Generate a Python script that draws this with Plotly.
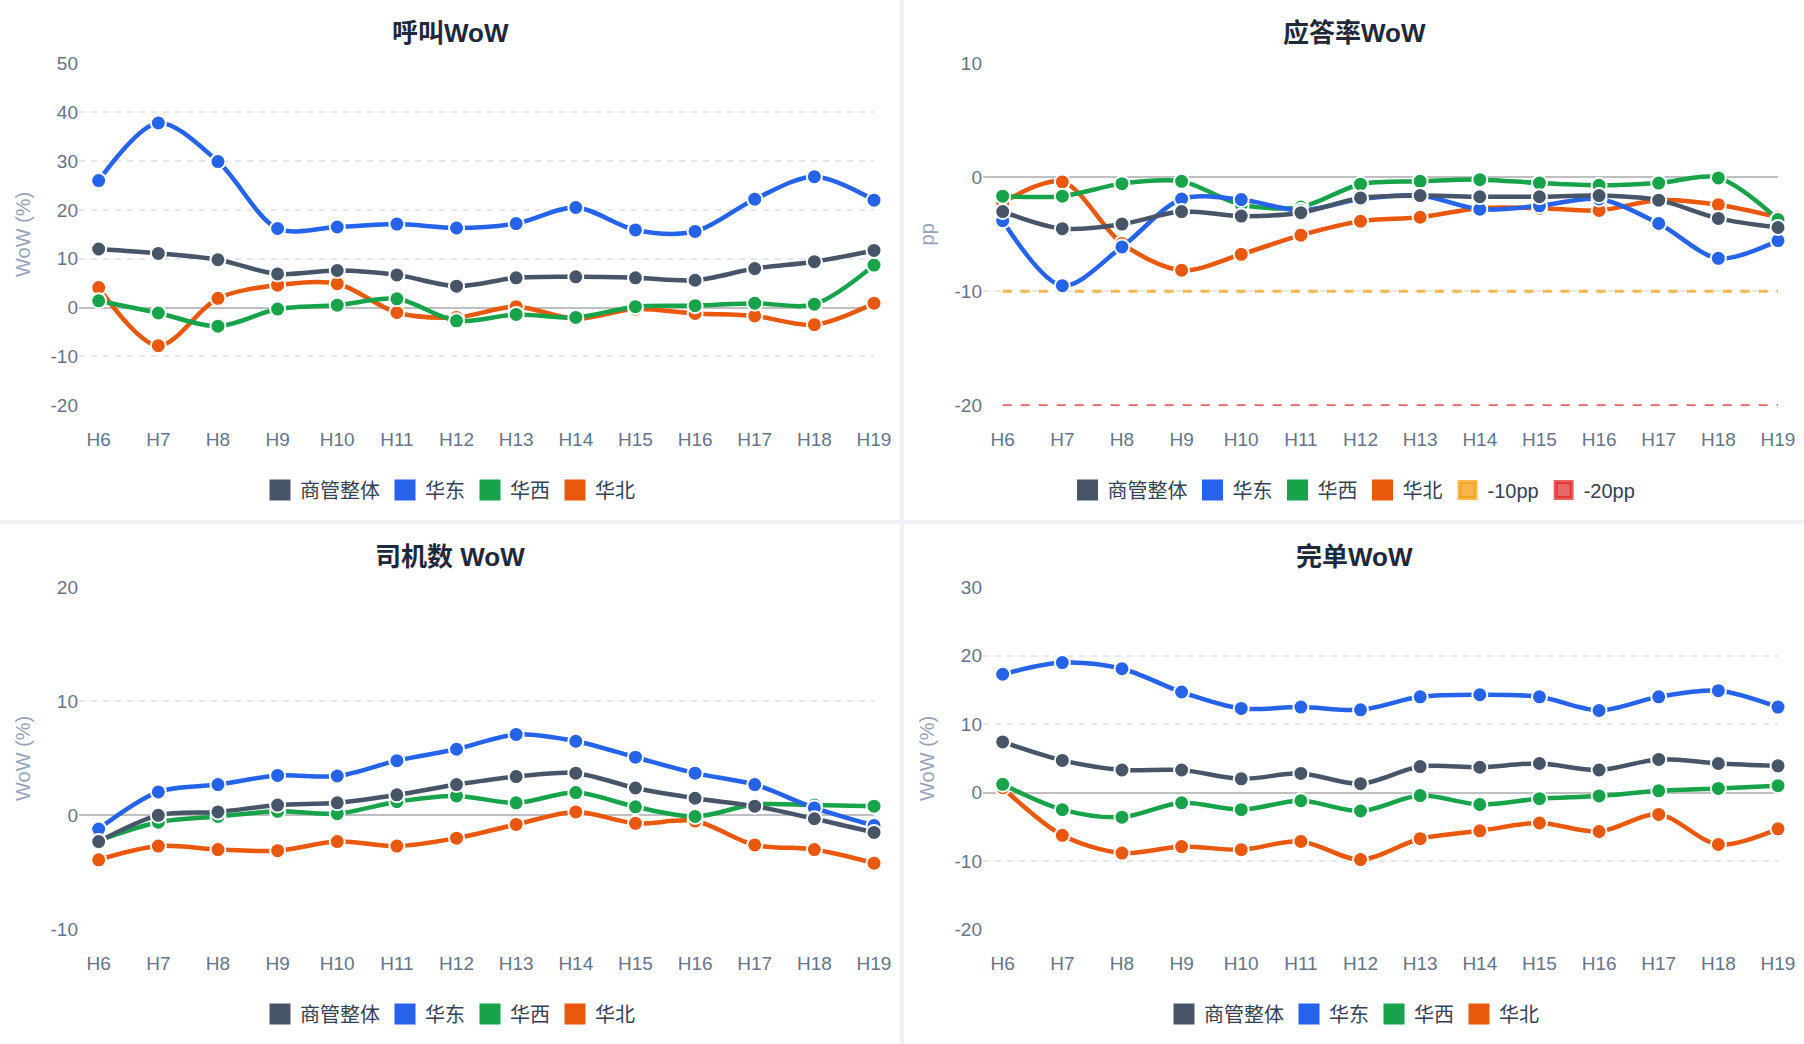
import plotly.graph_objects as go

W, H = 1804, 1044

hours = ['H6', 'H7', 'H8', 'H9', 'H10', 'H11', 'H12', 'H13', 'H14', 'H15', 'H16', 'H17', 'H18', 'H19']
series_names = ['商管整体', '华东', '华西', '华北']
series_colors = ['#475569', '#2563eb', '#16a34a', '#ea580c']

# 呼叫WoW (%)
call_overall = [12.0, 11.1, 9.8, 6.9, 7.6, 6.7, 4.4, 6.1, 6.3, 6.1, 5.6, 8.0, 9.4, 11.7]
call_east = [26.0, 37.8, 29.9, 16.2, 16.5, 17.1, 16.3, 17.2, 20.5, 15.9, 15.6, 22.2, 26.8, 22.0]
call_west = [1.4, -1.1, -3.8, -0.3, 0.5, 1.8, -2.7, -1.4, -2.0, 0.2, 0.4, 0.9, 0.7, 8.7]
call_north = [4.1, -7.8, 1.9, 4.6, 4.9, -1.0, -2.0, 0.2, -2.3, -0.3, -1.2, -1.7, -3.5, 0.9]
call_ticks = [-20, -10, 0, 10, 20, 30, 40, 50]

# 应答率WoW (pp)
ans_overall = [-3.0, -4.5, -4.1, -3.0, -3.4, -3.1, -1.8, -1.6, -1.7, -1.7, -1.6, -2.0, -3.6, -4.4]
ans_east = [-3.8, -9.5, -6.1, -1.9, -1.95, -2.9, -1.9, -1.6, -2.8, -2.5, -1.9, -4.05, -7.1, -5.55]
ans_west = [-1.65, -1.65, -0.55, -0.35, -2.4, -2.6, -0.6, -0.35, -0.2, -0.5, -0.7, -0.5, -0.05, -3.7]
ans_north = [-2.2, -0.4, -5.8, -8.15, -6.75, -5.07, -3.85, -3.5, -2.7, -2.7, -2.9, -2.0, -2.4, -3.5]
ans_ticks = [-20, -10, 0, 10]
thresholds = [-10, -20]
threshold_names = ['-10pp', '-20pp']
threshold_colors = ['rgba(245,158,11,0.72)', 'rgba(220,38,38,0.72)']
threshold_fills = ['rgba(247,180,75,1)', 'rgba(232,104,104,1)']

# 司机数 WoW (%)
drv_overall = [-2.3, 0.0, 0.3, 0.9, 1.1, 1.8, 2.7, 3.4, 3.7, 2.4, 1.5, 0.8, -0.3, -1.5]
drv_east = [-1.2, 2.05, 2.7, 3.5, 3.45, 4.8, 5.8, 7.1, 6.5, 5.1, 3.7, 2.7, 0.65, -0.9]
drv_west = [-2.2, -0.6, -0.1, 0.35, 0.15, 1.2, 1.7, 1.1, 2.0, 0.75, -0.1, 0.95, 0.9, 0.8]
drv_north = [-3.9, -2.7, -3.0, -3.1, -2.3, -2.7, -2.0, -0.8, 0.3, -0.7, -0.5, -2.6, -3.0, -4.2]
drv_ticks = [-10, 0, 10, 20]

# 完单WoW (%)
ord_overall = [7.4, 4.7, 3.3, 3.3, 2.0, 2.8, 1.3, 3.8, 3.7, 4.25, 3.3, 4.85, 4.25, 3.9]
ord_east = [17.3, 19.0, 18.1, 14.7, 12.3, 12.5, 12.1, 14.0, 14.3, 14.0, 12.0, 14.0, 14.9, 12.5]
ord_west = [1.2, -2.5, -3.6, -1.5, -2.5, -1.2, -2.7, -0.45, -1.75, -0.9, -0.5, 0.25, 0.6, 1.0]
ord_north = [0.7, -6.25, -8.85, -7.9, -8.35, -7.15, -9.8, -6.75, -5.6, -4.45, -5.7, -3.2, -7.6, -5.3]
ord_ticks = [-20, -10, 0, 10, 20, 30]

panel_titles = ['呼叫WoW', '应答率WoW', '司机数 WoW', '完单WoW']
panel_ytitles = ['WoW (%)', 'pp', 'WoW (%)', 'WoW (%)']
panel_ticks = [call_ticks, ans_ticks, drv_ticks, ord_ticks]
panel_data = [
    [call_overall, call_east, call_west, call_north],
    [ans_overall, ans_east, ans_west, ans_north],
    [drv_overall, drv_east, drv_west, drv_north],
    [ord_overall, ord_east, ord_west, ord_north],
]

FONT = 'Liberation Sans, Arial, Noto Sans CJK SC, sans-serif'
origins = [(0, 0), (904, 0), (0, 524), (904, 524)]

fig = go.Figure()
layout = dict(
    width=W, height=H,
    margin=dict(l=0, r=0, t=0, b=0, pad=0),
    paper_bgcolor='#eef2f7',
    plot_bgcolor='rgba(0,0,0,0)',
    font=dict(family=FONT, color='#64748b'),
    shapes=[], annotations=[],
)


def px(x):
    return x / W


def py(y):
    return 1 - y / H


for i in range(4):
    cx, cy = origins[i]
    n = '' if i == 0 else str(i + 1)
    xa, ya, lg = 'x' + n, 'y' + n, 'legend' + n
    layout['shapes'].append(dict(type='rect', xref='paper', yref='paper', layer='below',
                                 x0=px(cx), x1=px(cx + 900), y0=py(cy + 520), y1=py(cy),
                                 fillcolor='white', line=dict(width=0)))
    tv = panel_ticks[i]
    lo, hi = min(tv), max(tv)
    eps = (hi - lo) * 0.002
    layout['xaxis' + n] = dict(
        domain=[px(cx + 79), px(cx + 874)], anchor=ya, type='category', automargin=False,
        range=[-0.33, 13], showgrid=False, zeroline=False, showline=False,
        ticks='outside', ticklen=16, tickcolor='rgba(0,0,0,0)',
        tickfont=dict(size=19, color='#64748b'), fixedrange=True)
    layout['yaxis' + n] = dict(
        domain=[py(cy + 406), py(cy + 62.7)], anchor=xa, automargin=False,
        range=[lo - eps, hi + eps], tickmode='array', tickvals=tv,
        ticktext=[str(v) for v in tv],
        showgrid=True, gridcolor='#e2e8f0', gridwidth=2, griddash='6px,6px',
        zeroline=True, zerolinecolor='#bfbfbf', zerolinewidth=2,
        showline=False, ticks='',
        tickfont=dict(size=19, color='#64748b'),
        title=dict(text=panel_ytitles[i], font=dict(size=20, color='#94a3b8'), standoff=14),
        fixedrange=True)
    layout[lg] = dict(
        orientation='h', x=px(cx + 450), xanchor='center', y=py(cy + 490), yanchor='middle',
        font=dict(size=20, color='#334155'), bgcolor='rgba(0,0,0,0)', itemclick=False,
        itemdoubleclick=False)
    layout['annotations'].append(dict(
        text='<b>' + panel_titles[i] + '</b>', xref='paper', yref='paper',
        x=px(cx + 450), y=py(cy + 33), xanchor='center', yanchor='middle', showarrow=False,
        font=dict(size=26, color='#1e293b', family=FONT)))

    if i == 1:
        for t, tc in zip(thresholds, threshold_colors):
            fig.add_trace(go.Scatter(
                x=hours, y=[t] * len(hours), mode='lines', xaxis=xa, yaxis=ya,
                line=dict(color=tc, width=3 if t == -10 else 2, dash='dash'),
                showlegend=False, hoverinfo='skip'))

    for k in reversed(range(4)):
        fig.add_trace(go.Scatter(
            x=hours, y=panel_data[i][k], name=series_names[k], mode='lines+markers',
            xaxis=xa, yaxis=ya, legend=lg, showlegend=False, cliponaxis=False,
            line=dict(color=series_colors[k], width=4.5, shape='spline', smoothing=0.9),
            marker=dict(size=15, color=series_colors[k], line=dict(color='white', width=2))))

    for k in range(4):
        fig.add_trace(go.Scatter(
            x=[None], y=[None], name=series_names[k], mode='markers', xaxis=xa, yaxis=ya,
            legend=lg, showlegend=True,
            marker=dict(symbol='square', size=16, color=series_colors[k],
                        line=dict(color=series_colors[k], width=5))))
    if i == 1:
        for tn, tc, tf in zip(threshold_names, threshold_colors, threshold_fills):
            fig.add_trace(go.Scatter(
                x=[None], y=[None], name=tn, mode='markers', xaxis=xa, yaxis=ya,
                legend=lg, showlegend=True,
                marker=dict(symbol='square', size=16, color=tf,
                            line=dict(color=tc, width=4))))

fig.update_layout(**layout)
fig.write_html(
    'out.html',
    config={'displayModeBar': False},
    post_script="document.documentElement.style.margin='0';document.body.style.margin='0';"
                "document.body.style.padding='0';document.documentElement.style.overflow='hidden';"
                "document.body.style.overflow='hidden';")
